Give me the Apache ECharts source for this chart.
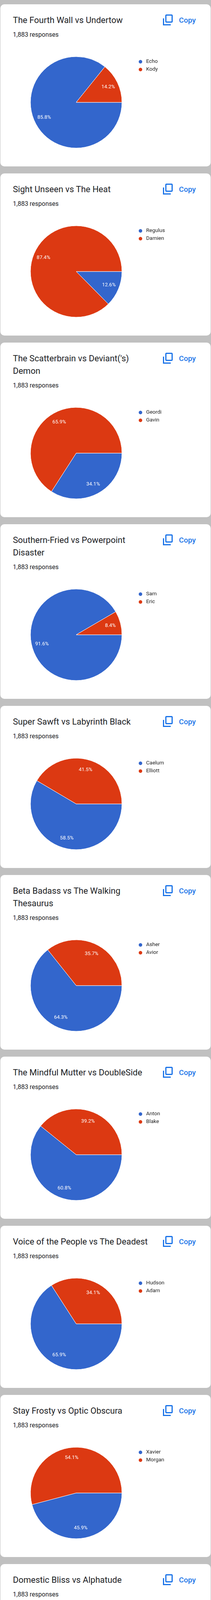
<!DOCTYPE html>
<html>
<head>
<meta charset="utf-8">
<script src="https://cdn.jsdelivr.net/npm/echarts@6/dist/echarts.min.js"></script>
<style>
  html, body { margin: 0; padding: 0; background: #c0c0c0; width: 540px; }
  #page { padding-top: 11px; }
  .card { position: relative; margin: 0 1px 18px 1px; background: #fff; border-radius: 10px; overflow: hidden; }
  .title { margin-left: 32px; padding-top: 25px; width: 356px; font: 400 22px/32px Roboto, sans-serif; color: #202124; }
  .resp { margin: 9px 0 0 32px; height: 24px; font: 400 16px/24px Roboto, sans-serif; color: #202124; }
  .chart { width: 538px; height: 325px; }
  .copy-icon { position: absolute; left: 416px; top: 26px; width: 25px; height: 29px; }
  .copy-text { position: absolute; left: 457px; top: 29px; font: 500 19px/24px Roboto, sans-serif; color: #1a73e8; }
</style>
</head>
<body>
<div id="page"></div>
<script>
// ---- data ----
const titles = [
  "The Fourth Wall vs Undertow",
  "Sight Unseen vs The Heat",
  "The Scatterbrain vs Deviant('s) Demon",
  "Southern-Fried vs Powerpoint Disaster",
  "Super Sawft vs Labyrinth Black",
  "Beta Badass vs The Walking Thesaurus",
  "The Mindful Mutter vs DoubleSide",
  "Voice of the People vs The Deadest",
  "Stay Frosty vs Optic Obscura",
  "Domestic Bliss vs Alphatude",
  "Mortis Motus vs Executive Realness",
  "Peppertoni Pizzaz vs The Fanged Flirt",
  "Bro-mageddon vs The Serene Machine",
  "The Programming Peon vs Wind of Change",
  "The Boss vs Snake Oil",
  "Smol But Mighty vs Anchor Line"
];
const responses = [1883, 1883, 1883, 1883, 1883, 1883, 1883, 1883, 1883, 1883, 1883, 1883, 1883, 1883, 1883, 1883];
const namesA = ["Echo", "Regulus", "Geordi", "Sam", "Caelum", "Asher", "Anton", "Hudson", "Xavier", "Ollie", "Brachium", "Guy", "Huxley", "Marcus", "Aaron", "Milo"];
const namesB = ["Kody", "Damien", "Gavin", "Eric", "Elliott", "Avior", "Blake", "Adam", "Morgan", "David", "James", "Vincent", "Camelopardalis", "Lasko", "Vega", "Ivan"];
const valuesA = [85.8, 12.6, 34.1, 91.6, 58.5, 64.3, 60.8, 65.9, 45.9, 16.4, 41.5, 51.2, 84.2, 7, 60.4, 94.6];
const valuesB = [14.2, 87.4, 65.9, 8.4, 41.5, 35.7, 39.2, 34.1, 54.1, 83.6, 58.5, 48.8, 15.8, 93, 39.6, 5.4];
const colors = ["#3366cc", "#dc3912"];

// ---- build ----
const page = document.getElementById('page');
const iconSvg = '<svg class="copy-icon" viewBox="0 0 25 29" preserveAspectRatio="none">' +
  '<rect x="7.5" y="1.5" width="16" height="18" rx="1.5" fill="none" stroke="#1a73e8" stroke-width="3"/>' +
  '<path d="M1.5 10 V26.5 H20" fill="none" stroke="#1a73e8" stroke-width="3"/></svg>';

titles.forEach((t, i) => {
  const card = document.createElement('div');
  card.className = 'card';
  const title = document.createElement('div');
  title.className = 'title';
  title.textContent = t;
  const resp = document.createElement('div');
  resp.className = 'resp';
  resp.textContent = responses[i].toLocaleString('en-US') + ' responses';
  const chartDiv = document.createElement('div');
  chartDiv.className = 'chart';
  card.appendChild(title);
  card.appendChild(resp);
  card.appendChild(chartDiv);
  card.insertAdjacentHTML('beforeend', iconSvg + '<div class="copy-text">Copy</div>');
  page.appendChild(card);

  const data = [
    { name: namesA[i], value: valuesA[i], itemStyle: { color: colors[0] } },
    { name: namesB[i], value: valuesB[i], itemStyle: { color: colors[1] } }
  ];
  const chart = echarts.init(chartDiv, null, { renderer: 'canvas' });
  chart.setOption({
    animation: false,
    legend: {
      orient: 'vertical',
      left: 347,
      top: 45,
      icon: 'circle',
      itemWidth: 19,
      itemHeight: 11,
      itemGap: 6,
      selectedMode: false,
      textStyle: { fontFamily: 'Roboto', fontSize: 13.5, color: '#222', lineHeight: 14 },
      data: [
        { name: namesA[i], itemStyle: { color: colors[0] } },
        { name: namesB[i], itemStyle: { color: colors[1] } }
      ]
    },
    series: [
      {
        type: 'pie',
        center: [194, 161],
        radius: 117,
        startAngle: 0,
        clockwise: true,
        silent: true,
        label: { show: false },
        labelLine: { show: false },
        itemStyle: { borderColor: '#fff', borderWidth: 1 },
        emphasis: { disabled: true },
        data: data
      },
      {
        type: 'pie',
        center: [194, 161],
        radius: [58.5, 117],
        startAngle: 0,
        clockwise: true,
        silent: true,
        avoidLabelOverlap: false,
        itemStyle: { color: 'rgba(0,0,0,0)' },
        emphasis: { disabled: true },
        label: {
          show: true,
          position: 'inside',
          formatter: p => p.value + '%',
          fontFamily: 'Roboto',
          fontSize: 13,
          color: '#fff'
        },
        labelLine: { show: false },
        data: data.map(d => ({ name: d.name, value: d.value }))
      }
    ]
  });
});
</script>
</body>
</html>
